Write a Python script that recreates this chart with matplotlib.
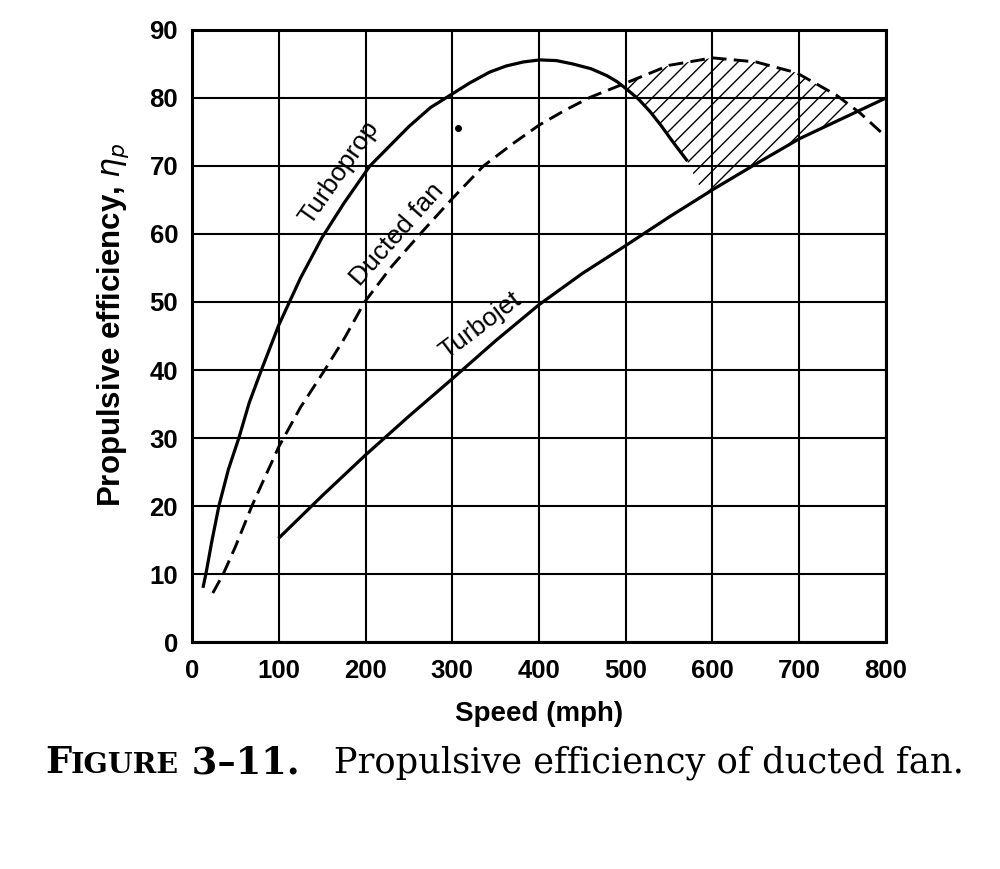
import numpy as np
import matplotlib
matplotlib.use("Agg")
import matplotlib.pyplot as plt

# values (speed in mph, efficiency in %)
turboprop_speed = [13, 16, 23, 31, 42, 54, 66, 80, 100, 125, 150, 175, 205, 250, 275, 300, 320, 343,
                   362, 382, 401, 420, 439, 460, 478, 490, 502, 515, 528, 541, 554, 570]
turboprop_eff = [8.2, 10, 14.9, 20, 25.4, 30, 35.2, 40, 46.6, 53.5, 59.5, 64.5, 70, 75.8, 78.6, 80.6,
                 82.2, 83.8, 84.7, 85.3, 85.6, 85.5, 85, 84.3, 83.3, 82.4, 81.2, 79.8, 78, 75.9, 73.6, 70.9]

ducted_speed = [24, 36, 50, 69, 85, 100, 125, 153, 175, 199, 230, 263, 300, 336, 370, 400, 430,
                459, 502, 550, 600, 650, 697, 743, 770, 800]
ducted_eff = [7.2, 10, 14, 20, 24.5, 28.7, 34.5, 40, 44.5, 50, 55.2, 60, 65.2, 70, 73.3, 76, 78.2,
              80.1, 82.3, 84.8, 85.9, 85.3, 83.7, 80.4, 77.8, 74.3]

turbojet_speed = [101, 150, 200, 250, 300, 350, 400, 450, 500, 550, 600, 650, 700, 750, 800]
turbojet_eff = [15.4, 21.5, 27.5, 33.2, 38.7, 44.3, 49.6, 54.2, 58.3, 62.5, 66.5, 70.3, 74, 77, 80]

# shaded band where the ducted fan beats both
shade_top_speed = [493, 502, 550, 600, 650, 697, 743, 765]
shade_top_eff = [82, 82.3, 84.8, 85.9, 85.3, 83.7, 80.4, 78.2]
shade_low_speed = [493, 502, 515, 528, 541, 554, 570, 590, 600, 650, 700, 765]
shade_low_eff = [82, 81.2, 79.8, 78, 75.9, 73.6, 70.9, 65.7, 66.5, 70.3, 74, 78.2]

dot_speed = [307]
dot_eff = [75.6]

x_ticks = [0, 100, 200, 300, 400, 500, 600, 700, 800]
y_ticks = [0, 10, 20, 30, 40, 50, 60, 70, 80, 90]

sans = ['Liberation Sans', 'DejaVu Sans']
serif = ['DejaVu Serif']

fig = plt.figure(figsize=(10, 8.69), dpi=100)
ax = fig.add_axes([0.192, 0.2612, 0.694, 0.7043])

ax.set_xlim(0, 800)
ax.set_ylim(0, 90)
ax.set_xticks(x_ticks)
ax.set_yticks(y_ticks)
ax.grid(True, color='black', linewidth=1.5)
ax.set_axisbelow(True)
for side, sp in ax.spines.items():
    sp.set_linewidth(2.2)
ax.tick_params(length=0)
ax.tick_params(axis='x', pad=12)
ax.tick_params(axis='y', pad=10)
for lab in ax.get_xticklabels() + ax.get_yticklabels():
    lab.set_fontfamily(sans)
    lab.set_fontweight('bold')
    lab.set_fontsize(18.5)

# hatched region
poly_x = np.concatenate([shade_top_speed, shade_low_speed[::-1]])
poly_y = np.concatenate([shade_top_eff, shade_low_eff[::-1]])
plt.rcParams['hatch.linewidth'] = 1.0
ax.fill(poly_x, poly_y, facecolor='none', edgecolor='black', linewidth=0, hatch='//')

ax.plot(turboprop_speed, turboprop_eff, color='black', linewidth=2.3)
ax.plot(ducted_speed, ducted_eff, color='black', linewidth=2.1, dashes=(5, 2.5))
ax.plot(turbojet_speed, turbojet_eff, color='black', linewidth=2.3)
ax.plot(dot_speed, dot_eff, 'o', color='black', markersize=4)

ax.text(169, 69, 'Turboprop', rotation=55, ha='center', va='center',
        rotation_mode='anchor', fontfamily=sans, fontsize=19)
ax.text(237, 60, 'Ducted fan', rotation=48.5, ha='center', va='center',
        rotation_mode='anchor', fontfamily=sans, fontsize=19)
ax.text(332, 46.6, 'Turbojet', rotation=37, ha='center', va='center',
        rotation_mode='anchor', fontfamily=sans, fontsize=19)

ax.set_xlabel('Speed (mph)', fontfamily=sans, fontweight='bold', fontsize=20, labelpad=13)
ax.set_ylabel(r'Propulsive efficiency, $\eta_p$', fontfamily=sans, fontweight='bold',
              fontsize=22.5)
ax.yaxis.set_label_coords(-0.088, 0.518)

# caption with small caps "FIGURE"
fig.canvas.draw()
r = fig.canvas.get_renderer()
y_cap = 1 - 773 / 869
x = 45 / 1000
pieces = [('F', 26.5, 'bold'), ('IGURE', 20.5, 'bold'), (' 3\u201311.', 26.5, 'bold'),
          ('   Propulsive efficiency of ducted fan.', 25.4, 'normal')]
for s, size, w in pieces:
    t = fig.text(x, y_cap, s, fontfamily=serif, fontsize=size, fontweight=w, va='baseline')
    bb = t.get_window_extent(renderer=r)
    x += bb.width / fig.bbox.width

fig.savefig('out.png', dpi=100)
